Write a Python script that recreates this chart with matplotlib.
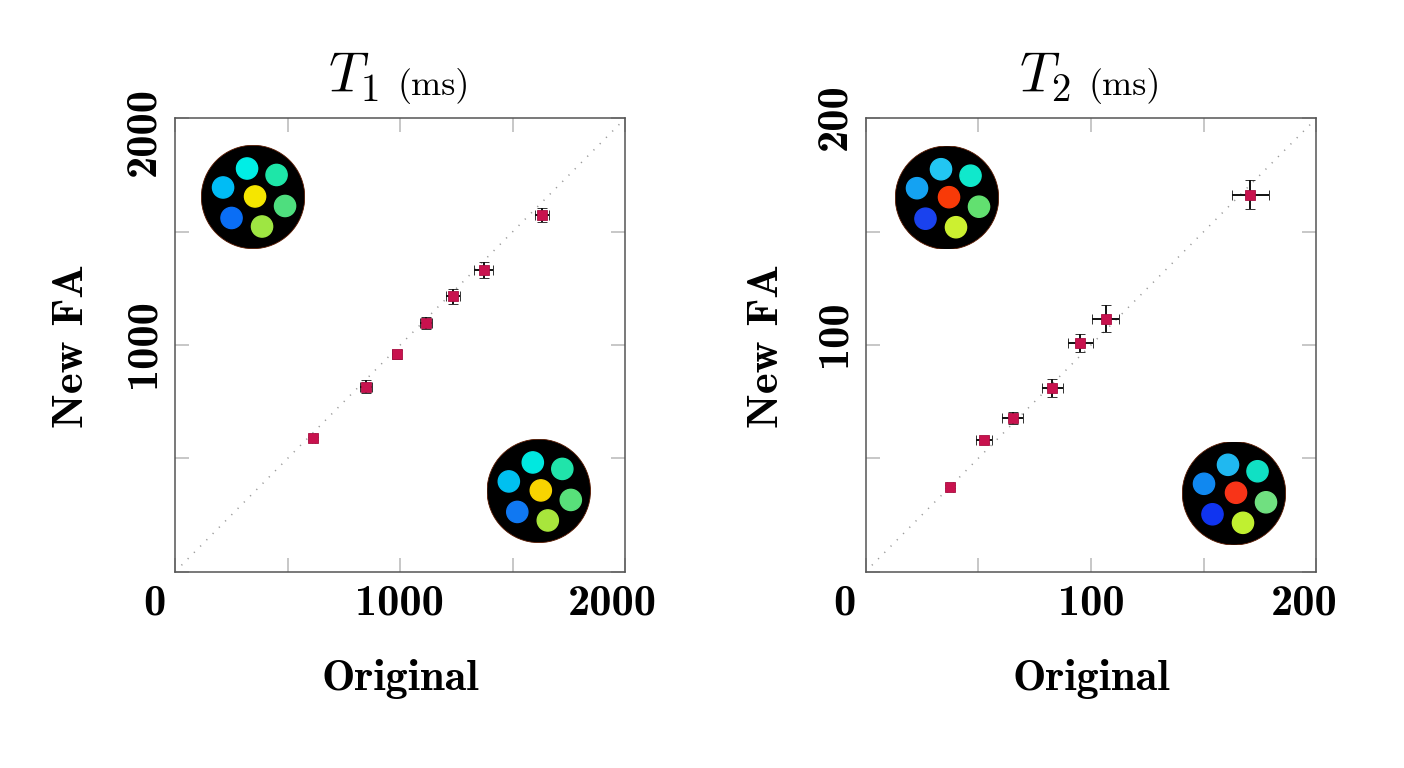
import numpy as np
import matplotlib
matplotlib.use('Agg')
import matplotlib.pyplot as plt
from matplotlib.patches import Circle
from matplotlib.transforms import ScaledTranslation, blended_transform_factory

matplotlib.rcParams['mathtext.fontset'] = 'cm'
matplotlib.rcParams['axes.unicode_minus'] = False

# T1 panel (ms)
t1_orig = [614, 848, 984, 1115, 1233, 1371, 1629]
t1_new = [588, 816, 959, 1098, 1216, 1330, 1572]
t1_orig_err = [8, 27, 20, 28, 31, 43, 31]
t1_new_err = [8, 30, 20, 27, 33, 35, 31]
t1_lim = 2000
t1_ticks = [0, 500, 1000, 1500, 2000]
t1_xlabels = ['0', '', '1000', '', '2000']
t1_ylabels = ['', '', '1000', '', '2000']

# T2 panel (ms)
t2_orig = [37.5, 52.5, 65.3, 82.9, 95.3, 106.5, 170.7]
t2_new = [37.5, 58.1, 67.9, 81.0, 101.0, 111.6, 166.2]
t2_orig_err = [1.5, 3.5, 4.7, 4.6, 5.4, 6.1, 8.2]
t2_new_err = [0.8, 1.5, 2.7, 4.0, 4.0, 6.0, 6.4]
t2_lim = 200
t2_ticks = [0, 50, 100, 150, 200]
t2_xlabels = ['0', '', '100', '', '200']
t2_ylabels = ['', '', '100', '', '200']

# phantom maps (vial layout relative to phantom radius, colours per map)
vial_dx = [-0.116, 0.455, -0.580, 0.039, 0.619, -0.416, 0.174]
vial_dy = [0.551, 0.426, 0.184, 0.010, -0.174, -0.406, -0.571]
t1_map_top = ['#00EEE6', '#1EE6A8', '#00BCF5', '#F5E600', '#4EDE7E', '#0A6EF5', '#9EE642']
t1_map_bot = ['#00E8E0', '#20E4AA', '#00C0F0', '#F8D400', '#58E07A', '#1078F2', '#A8E63C']
t2_map_top = ['#22C6F2', '#10E8CC', '#14A2F2', '#F83A08', '#62E070', '#1A42EE', '#CCF030']
t2_map_bot = ['#20B8F0', '#10E0C4', '#1088F0', '#F83418', '#70E080', '#1034F0', '#C0F030']

bold = {'family': 'cmb10', 'size': 32}
W, H = 1404, 768
fig = plt.figure(figsize=(W / 100, H / 100), dpi=100)


def px(dx, dy):
    return ScaledTranslation(dx / 100, dy / 100, fig.dpi_scale_trans)


def phantom(ax, cx, cy, colors):
    r = 51.7
    bb = ax.get_position()
    w = 2 * r / (bb.width * W)
    h = 2 * r / (bb.height * H)
    ia = ax.inset_axes([cx - w / 2, cy - h / 2, w, h])
    ia.set_xlim(-1, 1)
    ia.set_ylim(-1, 1)
    ia.axis('off')
    ia.add_patch(Circle((0, 0), 1.0, color='black', ec='#5a1a00', lw=0.6))
    for dx, dy, c in zip(vial_dx, vial_dy, colors):
        ia.add_patch(Circle((dx, dy), 0.205, color=c))


def panel(rect, orig, new, oerr, nerr, lim, ticks, xl, yl, sub, ylab_x,
          xoff, yoff, maps):
    ax = fig.add_axes(rect)
    ax.plot([0, lim], [0, lim], ls=(0, (0.8, 5)), color='#9a9a9a', lw=1.1, zorder=1)
    ax.errorbar(orig, new, xerr=oerr, yerr=nerr, fmt='s', ms=7.4,
                mfc='#C8124E', mec='#a80e40', mew=0.6, ecolor='#111111',
                elinewidth=1.4, capsize=3.4, capthick=1.4, zorder=3)
    ax.set_xlim(0, lim)
    ax.set_ylim(0, lim)
    ax.set_xticks(ticks)
    ax.set_yticks(ticks)
    ax.tick_params(direction='in', length=10, width=1.1, color='#b8b8b8',
                   top=True, right=True, labelbottom=False, labelleft=False)
    for s in ax.spines.values():
        s.set_color('#555555')
        s.set_linewidth(1.1)

    bx = blended_transform_factory(ax.transData, ax.transAxes)
    by = blended_transform_factory(ax.transAxes, ax.transData)
    for t, lab, o in zip(ticks, xl, xoff):
        if lab:
            ax.text(t, 0, lab, transform=bx + px(o, -32), ha='center',
                    va='center', fontdict=bold)
    for t, lab, o in zip(ticks, yl, yoff):
        if lab:
            ax.text(0, t, lab, transform=by + px(-31, o), ha='center',
                    va='center', rotation=90, fontdict=bold)

    ax.text(0.5, -0.261, 'Original', transform=ax.transAxes, ha='center',
            va='baseline', fontdict=bold)
    ax.text(ylab_x, 0.498, 'New FA', transform=ax.transAxes, ha='center',
            va='center', rotation=90, fontdict=bold)
    ax.text(0.34, 1.056, r'$T_%s$' % sub, transform=ax.transAxes, ha='left',
            va='baseline', fontsize=40)
    ax.text(0.495, 1.052, '(ms)', transform=ax.transAxes, ha='left',
            va='baseline', family='cmr10', fontsize=26)

    phantom(ax, maps[0][0], maps[0][1], maps[0][2])
    phantom(ax, maps[1][0], maps[1][1], maps[1][2])
    return ax


panel([175.2 / W, 1 - 571.6 / H, 450 / W, 453.2 / H],
      t1_orig, t1_new, t1_orig_err, t1_new_err, t1_lim, t1_ticks,
      t1_xlabels, t1_ylabels, '1', -0.229,
      [-21, 0, -1, 0, -13], [0, 0, 1, 0, -13],
      [(0.173, 0.8266, t1_map_top), (0.808, 0.178, t1_map_bot)])

panel([865.6 / W, 1 - 571.6 / H, 450.7 / W, 453.2 / H],
      t2_orig, t2_new, t2_orig_err, t2_new_err, t2_lim, t2_ticks,
      t2_xlabels, t2_ylabels, '2', -0.2166,
      [-21, 0, 0, 0, -12], [0, 0, 11, 0, 2],
      [(0.1806, 0.825, t2_map_top), (0.8174, 0.1728, t2_map_bot)])

fig.savefig('out.png', dpi=100)
